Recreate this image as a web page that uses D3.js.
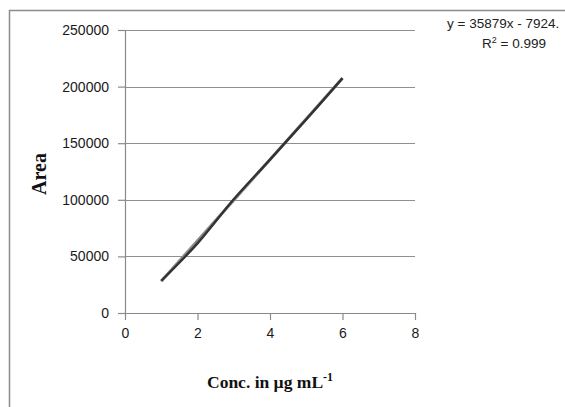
<!DOCTYPE html>
<html>
<head>
<meta charset="utf-8">
<script src="https://cdn.jsdelivr.net/npm/d3@7"></script>
<style>
  body { margin: 0; background: #fff; }
  svg { display: block; }
</style>
</head>
<body>
<div class="chart"></div>
<script>
// calibration data
const conc = [1, 2, 3, 4, 5, 6]
const area = [28500, 61500, 100500, 135500, 171000, 207500]
const slope = 35879
const intercept = -7924
const xTicks = [0, 2, 4, 6, 8]
const yTicks = [0, 50000, 100000, 150000, 200000, 250000]

const svgWidth = 565
const svgHeight = 407

let margin = { top: 30, right: 150, left: 125, bottom: 94 }
let width = 415 - margin.left
let height = 313 - margin.top

let svg = d3.select(".chart")
	.append("svg")
	.attr("width", svgWidth)
	.attr("height", svgHeight)

// outer chart border
svg.append("rect")
	.attr("x", 9.5)
	.attr("y", 10.5)
	.attr("width", 600)
	.attr("height", 500)
	.attr("fill", "none")
	.attr("stroke", "#8c8c8c")
	.attr("stroke-width", 1.5)

let chartGroup = svg.append("g")
	.attr("transform", `translate(${margin.left}, ${margin.top})`)

let x = d3.scaleLinear().domain([0, 8]).range([0, width])
let y = d3.scaleLinear().domain([0, 250000]).range([height, 0])

// gridlines
chartGroup.append("g")
	.selectAll("line")
	.data(yTicks.slice(1))
	.enter()
	.append("line")
	.attr("x1", 0)
	.attr("x2", width)
	.attr("y1", d => Math.round(y(d)) + 0.5)
	.attr("y2", d => Math.round(y(d)) + 0.5)
	.attr("stroke", "#8f8f8f")
	.attr("stroke-width", 1.2)

let bottomAxis = d3.axisBottom(x).tickValues(xTicks).tickSize(7).tickSizeOuter(0)
let leftAxis = d3.axisLeft(y).tickValues(yTicks).tickSize(7).tickSizeOuter(0)
	.tickFormat(d3.format("d"))

let xAxis = chartGroup.append("g")
	.attr("transform", `translate(0, ${height})`)
	.call(bottomAxis)

let yAxis = chartGroup.append("g").call(leftAxis)

;[xAxis, yAxis].forEach(ax => {
	ax.selectAll("path, line").attr("stroke", "#8a8a8a").attr("stroke-width", 1.2)
	ax.selectAll("text")
		.attr("font-family", "Liberation Sans, Arial, sans-serif")
		.attr("font-size", 14)
		.attr("fill", "#1a1a1a")
})
xAxis.selectAll("text").attr("dy", "1.1em")
yAxis.selectAll("text").attr("x", -16)

// linear trendline
chartGroup.append("line")
	.attr("x1", x(conc[0]))
	.attr("y1", y(slope * conc[0] + intercept))
	.attr("x2", x(conc[conc.length - 1]))
	.attr("y2", y(slope * conc[conc.length - 1] + intercept))
	.attr("stroke", "#8a8a8a")
	.attr("stroke-width", 3)

// data line (smoothed)
let line = d3.line()
	.x((d, i) => x(conc[i]))
	.y(d => y(d))
	.curve(d3.curveCatmullRom)

chartGroup.append("path")
	.datum(area)
	.attr("d", line)
	.attr("fill", "none")
	.attr("stroke", "#333")
	.attr("stroke-width", 2.4)

// axis titles
svg.append("text")
	.attr("transform", "translate(46, 174) rotate(-90)")
	.attr("text-anchor", "middle")
	.attr("font-family", "Liberation Serif, Times New Roman, serif")
	.attr("font-weight", "bold")
	.attr("font-size", 20)
	.attr("fill", "#111")
	.text("Area")

let xTitle = svg.append("text")
	.attr("x", 207)
	.attr("y", 388)
	.attr("font-family", "Liberation Serif, Times New Roman, serif")
	.attr("font-weight", "bold")
	.attr("font-size", 17.5)
	.attr("fill", "#111")
	.text("Conc. in µg mL")
xTitle.append("tspan")
	.attr("dy", -7)
	.attr("font-size", 12)
	.text("-1")

// regression equation
svg.append("text")
	.attr("x", 447)
	.attr("y", 28)
	.attr("font-family", "Liberation Sans, Arial, sans-serif")
	.attr("font-size", 13.5)
	.attr("fill", "#222")
	.text(`y = ${slope}x - ${-intercept}.`)

let r2 = svg.append("text")
	.attr("x", 482)
	.attr("y", 48)
	.attr("font-family", "Liberation Sans, Arial, sans-serif")
	.attr("font-size", 13.5)
	.attr("fill", "#222")
	.text("R")
r2.append("tspan").attr("dy", -5).attr("font-size", 9).text("2")
r2.append("tspan").attr("dy", 5).text(" = 0.999")
</script>
</body>
</html>
